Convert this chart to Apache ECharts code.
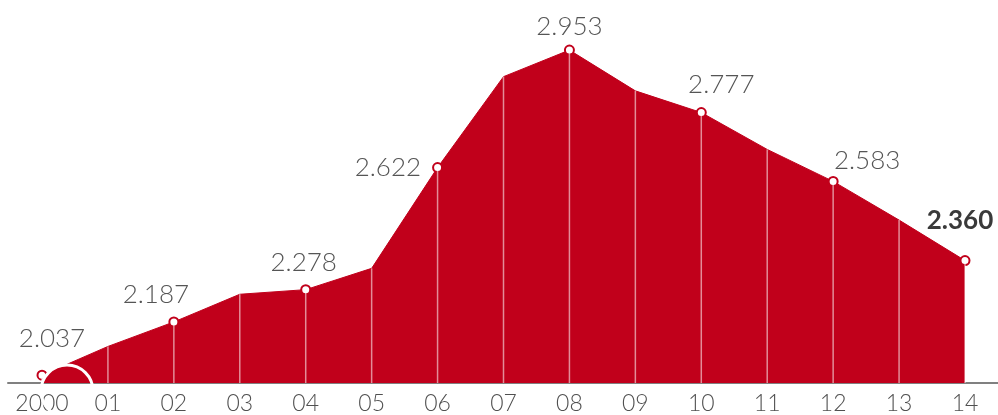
<!DOCTYPE html>
<html>
<head>
<meta charset="utf-8">
<script src="https://cdn.jsdelivr.net/npm/echarts@6/dist/echarts.min.js"></script>
<style>
  html, body { margin: 0; padding: 0; background: #fff; }
  #chart { width: 998px; height: 415px; }
</style>
</head>
<body>
<div id="chart"></div>
<script>
// ---- data ----
const categories = ['2000','01','02','03','04','05','06','07','08','09','10','11','12','13','14'];
const values = [2.037, 2.118, 2.187, 2.265, 2.278, 2.338, 2.622, 2.878, 2.953, 2.838, 2.777, 2.673, 2.583, 2.474, 2.360];
const labelText = ['2.037', '', '2.187', '', '2.278', '', '2.622', '', '2.953', '', '2.777', '', '2.583', '', '2.360'];

// ---- styling (label placement per point) ----
const RED = '#c1001b';
const labelPlacement = {
  0:  { position: 'top', offset: [10, -13] },
  2:  { position: 'top', offset: [-18, -4] },
  4:  { position: 'top', offset: [-2, -4] },
  6:  { position: 'left', offset: [-6, 0] },
  8:  { position: 'top', offset: [0, 0] },
  10: { position: 'top', offset: [20, -4] },
  12: { position: 'top', offset: [34, 3] },
  14: { position: 'top', offset: [-5, -16], bold: true }
};
const FONT = 'Lato';

const lineData = values.map((v, i) => {
  const lbl = labelText[i];
  if (!lbl) return { value: v, symbol: 'none', label: { show: false } };
  const p = labelPlacement[i];
  return {
    value: v,
    symbol: 'circle',
    label: {
      show: true,
      formatter: lbl,
      position: p.position,
      offset: p.offset,
      color: p.bold ? '#3a3a3a' : '#555555',
      fontWeight: p.bold ? 'bold' : 300,
      fontSize: 26,
      fontFamily: FONT
    }
  };
});

const chart = echarts.init(document.getElementById('chart'), null, { renderer: 'canvas' });
chart.setOption({
  animation: false,
  backgroundColor: '#ffffff',
  grid: [
    { left: 42, right: 33, top: 0, bottom: 32 },
    { left: 8, right: 0, top: 0, bottom: 32 }
  ],
  xAxis: [
    {
      type: 'category', gridIndex: 0, data: categories, boundaryGap: false,
      axisLine: { show: false }, axisTick: { show: false }, splitLine: { show: false },
      axisLabel: { color: '#505050', fontSize: 23, fontFamily: FONT, fontWeight: 300, margin: 9, interval: 0 }
    },
    {
      type: 'value', gridIndex: 1, min: 0, max: 1,
      axisLine: { show: true, onZero: false, lineStyle: { color: '#808080', width: 2 } },
      axisTick: { show: false }, axisLabel: { show: false }, splitLine: { show: false }
    }
  ],
  yAxis: [
    { type: 'value', gridIndex: 0, min: 2.015, max: 3.094, show: false, splitLine: { show: false } },
    { type: 'value', gridIndex: 1, min: 0, max: 1, show: false, splitLine: { show: false } }
  ],
  series: [
    {
      type: 'line', xAxisIndex: 0, yAxisIndex: 0, data: lineData,
      symbolSize: 9,
      lineStyle: { color: RED, width: 1 },
      areaStyle: { color: RED, opacity: 1 },
      itemStyle: { color: '#ffffff', borderColor: RED, borderWidth: 2 },
      z: 2
    },
    {
      type: 'bar', xAxisIndex: 0, yAxisIndex: 0, data: values,
      barWidth: 1.5,
      itemStyle: { color: 'rgba(255,255,255,0.55)' },
      silent: true,
      z: 3
    }
  ],
  graphic: [
    {
      type: 'circle', z: 100,
      shape: { cx: 67, cy: 391, r: 26 },
      style: { fill: 'none', stroke: '#ffffff', lineWidth: 3 }
    }
  ]
});
</script>
</body>
</html>
